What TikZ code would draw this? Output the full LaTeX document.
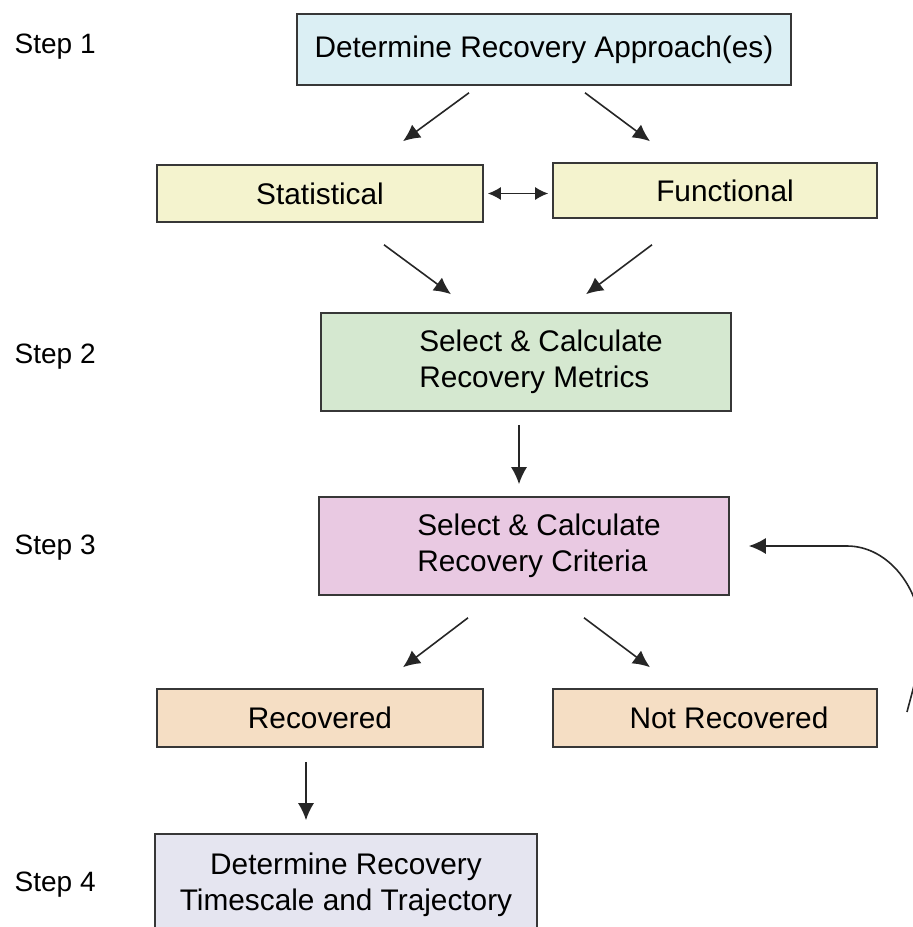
\documentclass[tikz,border=0pt]{standalone}
\usepackage{fontspec}
\setmainfont{Liberation Sans}
\usetikzlibrary{arrows.meta,calc}

\definecolor{approachblue}{RGB}{219,239,244}
\definecolor{typeyellow}{RGB}{244,243,206}
\definecolor{metricgreen}{RGB}{213,232,208}
\definecolor{criteriapink}{RGB}{233,201,226}
\definecolor{outcomepeach}{RGB}{245,222,196}
\definecolor{timelavender}{RGB}{229,229,240}
\definecolor{edgegray}{RGB}{55,55,55}

\begin{document}
\begin{tikzpicture}[x=0.5pt,y=-0.5pt,
    font=\fontsize{14.9}{17.8}\selectfont,
    box/.style={draw=edgegray, line width=0.8pt, inner sep=0pt, align=center},
    steplabel/.style={anchor=east, inner sep=0pt, font=\fontsize{14}{17}\selectfont},
    arr/.style={->, >={Latex[length=8.5pt,width=8pt]}, line width=0.8pt, black!85}]

	\useasboundingbox (0,0) rectangle (913,927);
	
	% step labels
	\node[steplabel] (s1) at (96,47) {Step 1};
	\node[steplabel] (s2) at (96,357) {Step 2};
	\node[steplabel] (s3) at (96,548) {Step 3};
	\node[steplabel] (s4) at (96,885) {Step 4};
	
	% boxes
	\node[box, fill=approachblue, minimum width=247pt, minimum height=35.5pt] (approach) at (544,49.5) {Determine Recovery Approach(es)};
	\node[box, fill=typeyellow, minimum width=163pt, minimum height=28.5pt] (stat) at (320,193.5) {Statistical};
	\node[box, fill=typeyellow, minimum width=162pt, minimum height=27.5pt] (func) at (715,190.5) {\hspace*{10pt}Functional};
	\node[box, fill=metricgreen, minimum width=205pt, minimum height=49pt, align=left] (metrics) at (526,362) {\hspace*{15pt}Select \& Calculate\\\hspace*{15pt}Recovery Metrics};
	\node[box, fill=criteriapink, minimum width=205pt, minimum height=49pt, align=left] (crit) at (524,546) {\hspace*{15pt}Select \& Calculate\\\hspace*{15pt}Recovery Criteria};
	\node[box, fill=outcomepeach, minimum width=163pt, minimum height=29pt] (rec) at (320,718) {Recovered};
	\node[box, fill=outcomepeach, minimum width=162pt, minimum height=29pt] (notrec) at (715,718) {\hspace*{14pt}Not Recovered};
	\node[box, fill=timelavender, minimum width=191pt, minimum height=50.5pt] (timescale) at (346,884.5) {Determine Recovery\\Timescale and Trajectory};
	
	% arrows
	\draw[arr] ([shift={(-75,7)}]approach.south) -- ([shift={(83,-23)}]stat.north);
	\draw[arr] ([shift={(41,7)}]approach.south) -- ([shift={(-65,-21)}]func.north);
	\draw[arr, <->, >={Latex[length=6.5pt,width=6.5pt]}] (stat.east) ++(4,0) -- ([xshift=-2pt]func.west |- stat.east);
	\draw[arr] ([shift={(64,22)}]stat.south) -- ([shift={(-75,-18)}]metrics.north);
	\draw[arr] ([shift={(-63,26)}]func.south) -- ([shift={(60,-18)}]metrics.north);
	\draw[arr] ([shift={(-7,13)}]metrics.south) -- ([shift={(-5,-12)}]crit.north);
	\draw[arr] ([shift={(-56,22)}]crit.south) -- ([shift={(83,-21)}]rec.north);
	\draw[arr] ([shift={(60,22)}]crit.south) -- ([shift={(-65,-21)}]notrec.north);
	\draw[arr] ([shift={(-14,14)}]rec.south) -- ([shift={(-40,-13)}]timescale.north);
	
	% loop back
	\coordinate (loopstart) at (907,712);
	\coordinate (loopturn) at (847,546);
	\draw[arr] (loopstart) .. controls (911,696) and (922,660) .. (922,640)
		.. controls (922,588) and (888,546) .. (loopturn) -- ([xshift=9.5pt]crit.east);
	
\end{tikzpicture}
\end{document}
